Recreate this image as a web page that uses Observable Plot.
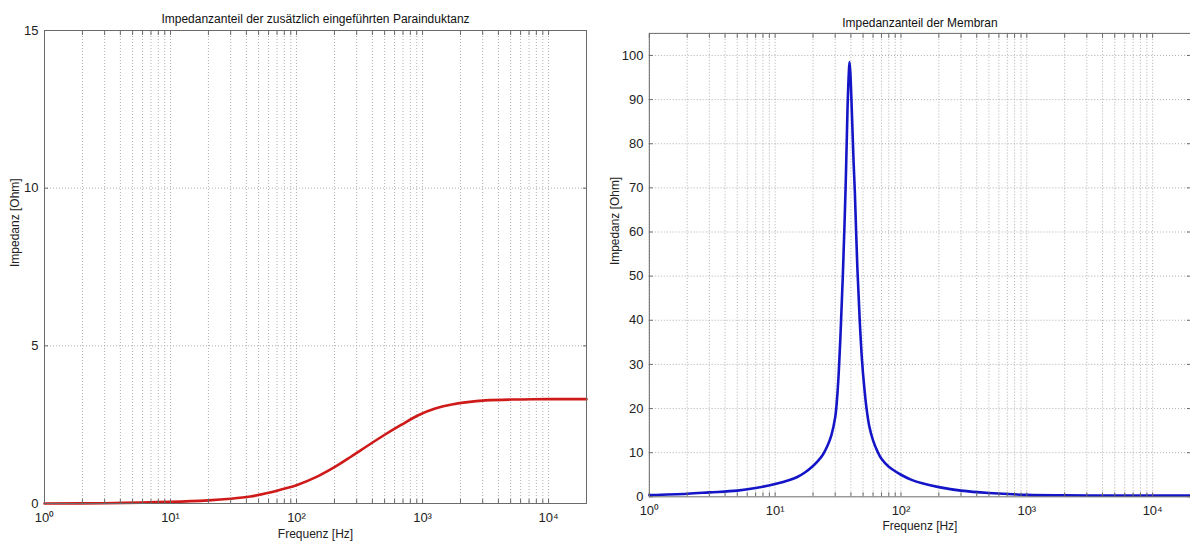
<!DOCTYPE html>
<html><head><meta charset="utf-8">
<script src="https://cdn.jsdelivr.net/npm/d3@7"></script>
<script src="https://cdn.jsdelivr.net/npm/@observablehq/plot@0.6"></script>
<style>
body{margin:0;background:#fff;}
#wrap{position:relative;width:1190px;height:548px;overflow:hidden;background:#fff;}
#left{position:absolute;left:0;top:0;}
#right{position:absolute;left:595px;top:0;}
</style></head><body><div id="wrap"><div id="left"></div><div id="right"></div></div>
<script>
// ---- data ----
const freqL = [1, 3, 10, 20, 30, 43, 58.7, 79.8, 100, 147, 200, 272, 369, 501, 681, 926, 1260, 1709, 3162, 6000, 10000, 20000];
const impL  = [0.0, 0.01, 0.05, 0.1, 0.15, 0.22, 0.33, 0.47, 0.58, 0.86, 1.15, 1.49, 1.84, 2.18, 2.50, 2.80, 3.01, 3.14, 3.27, 3.3, 3.31, 3.31];

const freqR = [1, 2, 3, 5, 7, 10, 13, 15, 17, 20, 22, 24, 26, 28, 30, 31, 32, 33, 34.5, 36.3, 37.6, 38.5, 39, 39.6, 40.5, 42, 43, 45, 47, 49, 51, 53, 56, 60, 65, 70, 80, 90, 100, 120, 150, 200, 300, 500, 1000, 2000, 5000, 10000, 20000];
const impR  = [0.4, 0.7, 1.0, 1.4, 2.0, 2.9, 3.8, 4.5, 5.4, 7.0, 8.2, 9.6, 11.5, 14, 18, 22, 28, 36, 50, 70, 88, 96, 98.5, 96, 89, 76, 69, 52, 40, 31, 25, 20.5, 16, 12.8, 10.3, 8.6, 6.8, 5.8, 5.0, 3.9, 3.0, 2.2, 1.4, 0.85, 0.45, 0.35, 0.3, 0.3, 0.3];

const xMajor = [1, 10, 100, 1000, 10000];
const xMajorLabels = ["10\u2070", "10\u00B9", "10\u00B2", "10\u00B3", "10\u2074"];
const xAll = [1,2,3,4,5,6,7,8,9,10,20,30,40,50,60,70,80,90,100,200,300,400,500,600,700,800,900,1000,2000,3000,4000,5000,6000,7000,8000,9000,10000];
const yTicksL = [0, 5, 10, 15];
const yTicksR = [0, 10, 20, 30, 40, 50, 60, 70, 80, 90, 100];

const titleL = "Impedanzanteil der zusätzlich eingeführten Parainduktanz";
const titleR = "Impedanzanteil der Membran";
const xLabel = "Frequenz [Hz]";
const yLabel = "Impedanz [Ohm]";

const tableL = freqL.map((f, i) => ({f, z: impL[i]}));
const tableR = freqR.map((f, i) => ({f, z: impR[i]}));

const font = "'Liberation Sans', Arial, Helvetica, sans-serif";

function panel({data, color, yDomain, yTicks, width, height, margins, title, titleDy, yLabelDx, xLabelDy}) {
  const gridStyle = {stroke: "#9a9a9a", strokeOpacity: 1, strokeWidth: 0.8, strokeDasharray: "1,2"};
  return Plot.plot({
    width, height, ...margins,
    style: {fontFamily: font, fontSize: "13px", background: "white", color: "#222", overflow: "visible"},
    x: {type: "log", domain: [1, 20000]},
    y: {domain: yDomain},
    marks: [
      Plot.gridX(xAll, gridStyle),
      Plot.gridY(yTicks.filter(v => v > yDomain[0] && v < yDomain[1]), gridStyle),
      Plot.line(data, {x: "f", y: "z", stroke: color, strokeWidth: 2.6, curve: "catmull-rom"}),
      Plot.frame({stroke: "#6a6a6a", strokeWidth: 1}),
      // inward tick marks (MATLAB style)
      Plot.axisX(xAll, {anchor: "bottom", tickSize: -4, tickFormat: () => "", label: null, stroke: "#6a6a6a"}),
      Plot.axisX(xAll, {anchor: "top", tickSize: -4, tickFormat: () => "", label: null, stroke: "#6a6a6a"}),
      Plot.axisY(yTicks, {anchor: "left", tickSize: -4, tickFormat: () => "", label: null, stroke: "#6a6a6a"}),
      Plot.axisY(yTicks, {anchor: "right", tickSize: -4, tickFormat: () => "", label: null, stroke: "#6a6a6a"}),
      // tick labels
      Plot.axisX(xMajor, {anchor: "bottom", tickSize: 0, tickPadding: 9, fontSize: 13,
        tickFormat: d => xMajorLabels[xMajor.indexOf(d)], label: null}),
      Plot.axisY(yTicks, {anchor: "left", tickSize: 0, tickPadding: 6, fontSize: 13, label: null}),
      // axis titles and plot title
      Plot.text([xLabel], {text: d => d, frameAnchor: "bottom", dy: xLabelDy, fontSize: 12, fill: "#222"}),
      Plot.text([yLabel], {text: d => d, frameAnchor: "left", dx: yLabelDx, rotate: -90, fontSize: 12, fill: "#222"}),
      Plot.text([title], {text: d => d, frameAnchor: "top", dy: titleDy, fontSize: 12, fill: "#111"})
    ]
  });
}

document.getElementById("left").appendChild(panel({
  data: tableL, color: "#cf1a1a", yDomain: [0, 15], yTicks: yTicksL,
  width: 595, height: 548,
  margins: {marginLeft: 44, marginRight: 9, marginTop: 30, marginBottom: 45},
  title: titleL, titleDy: -16, yLabelDx: -29, xLabelDy: 34
}));

document.getElementById("right").appendChild(panel({
  data: tableR, color: "#1515c8", yDomain: [0, 105], yTicks: yTicksR,
  width: 597, height: 548,
  margins: {marginLeft: 54, marginRight: 0, marginTop: 33, marginBottom: 50},
  title: titleR, titleDy: -15, yLabelDx: -34, xLabelDy: 33
}));
</script>
</body></html>
